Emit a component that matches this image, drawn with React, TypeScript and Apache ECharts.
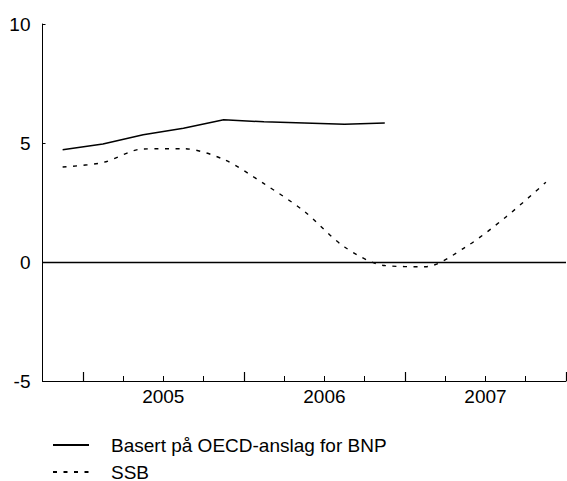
import React, { useEffect, useRef } from "react";
import * as echarts from "echarts";

const quarters = [
  "2004K4", "2005K1", "2005K2", "2005K3", "2005K4",
  "2006K1", "2006K2", "2006K3", "2006K4",
  "2007K1", "2007K2", "2007K3", "2007K4",
];
const yearLabels = ["2005", "2006", "2007"];
const yearLabelPositions = [3, 7, 11];
const yearBoundaries = [1, 5, 9, 13];
const oecdSeries = [4.72, 4.96, 5.35, 5.62, 5.98, 5.89, 5.84, 5.79, 5.84];
const ssbSeries = [3.99, 4.18, 4.75, 4.76, 4.31, 3.29, 2.13, 0.63, -0.15, -0.2, 0.62, 1.88, 3.35];
const seriesNames = ["Basert på OECD-anslag for BNP", "SSB"];
const yTicks = { min: -5, max: 10, interval: 5 };

const FONT = "Liberation Sans, Arial, sans-serif";

export default function App() {
  const ref = useRef<HTMLDivElement>(null);
  useEffect(() => {
    if (!ref.current) return;
    const chart = echarts.init(ref.current, null, { renderer: "svg" });
    const toPoints = (vals: number[]) => vals.map((v, i) => [i + 0.5, v]);
    chart.setOption({
      animation: false,
      backgroundColor: "#ffffff",
      textStyle: { fontFamily: FONT },
      grid: { left: 42.5, top: 24, right: 1, bottom: 100, containLabel: false },
      legend: {
        orient: "vertical",
        left: 52,
        top: 435,
        height: 70,
        itemWidth: 36,
        itemHeight: 14,
        itemGap: 7,
        padding: 0,
        data: seriesNames,
        itemStyle: { opacity: 0 },
        textStyle: {
          fontSize: 19,
          color: "#000",
          fontFamily: FONT,
          lineHeight: 20,
          padding: [0, 0, 0, 17],
        },
      },
      xAxis: [
        {
          type: "value",
          min: 0,
          max: quarters.length,
          interval: 1,
          position: "bottom",
          axisLine: { show: true, onZero: false, lineStyle: { color: "#000", width: 1 } },
          axisTick: { show: true, inside: true, length: 5, lineStyle: { color: "#000", width: 1 } },
          axisLabel: {
            show: true,
            customValues: yearLabelPositions,
            formatter: (v: number) => {
              const idx = yearLabelPositions.indexOf(v);
              return idx >= 0 ? yearLabels[idx] : "";
            },
            fontSize: 19,
            color: "#000",
            fontFamily: FONT,
            margin: 6,
          },
          splitLine: { show: false },
        },
        {
          type: "value",
          min: 0,
          max: quarters.length,
          position: "bottom",
          axisLine: { show: false, onZero: false },
          axisTick: {
            show: true,
            inside: true,
            length: 9,
            customValues: yearBoundaries,
            lineStyle: { color: "#000", width: 1.2 },
          },
          axisLabel: { show: false },
          splitLine: { show: false },
        },
      ],
      yAxis: {
        type: "value",
        min: yTicks.min,
        max: yTicks.max,
        interval: yTicks.interval,
        axisLine: { show: true, onZero: false, lineStyle: { color: "#000", width: 1 } },
        axisTick: { show: true, inside: true, length: 3, lineStyle: { color: "#000" } },
        axisLabel: { fontSize: 19, color: "#000", fontFamily: FONT, margin: 12 },
        splitLine: { show: false },
      },
      series: [
        {
          name: seriesNames[0],
          type: "line",
          data: toPoints(oecdSeries),
          symbol: "none",
          lineStyle: { color: "#000", width: 1.5, type: "solid" },
          itemStyle: { color: "#000" },
          markLine: {
            silent: true,
            symbol: "none",
            label: { show: false },
            lineStyle: { color: "#000", width: 1.3, type: "solid" },
            data: [{ yAxis: 0 }],
          },
        },
        {
          name: seriesNames[1],
          type: "line",
          data: toPoints(ssbSeries),
          symbol: "none",
          smooth: 0.3,
          lineStyle: { color: "#000", width: 1.4, type: [4, 6.5] },
          itemStyle: { color: "#000" },
        },
      ],
    });
    return () => chart.dispose();
  }, []);
  return (
    <div
      ref={ref}
      style={{ position: "fixed", left: 0, top: 0, width: 567, height: 481, background: "#fff" }}
    />
  );
}
